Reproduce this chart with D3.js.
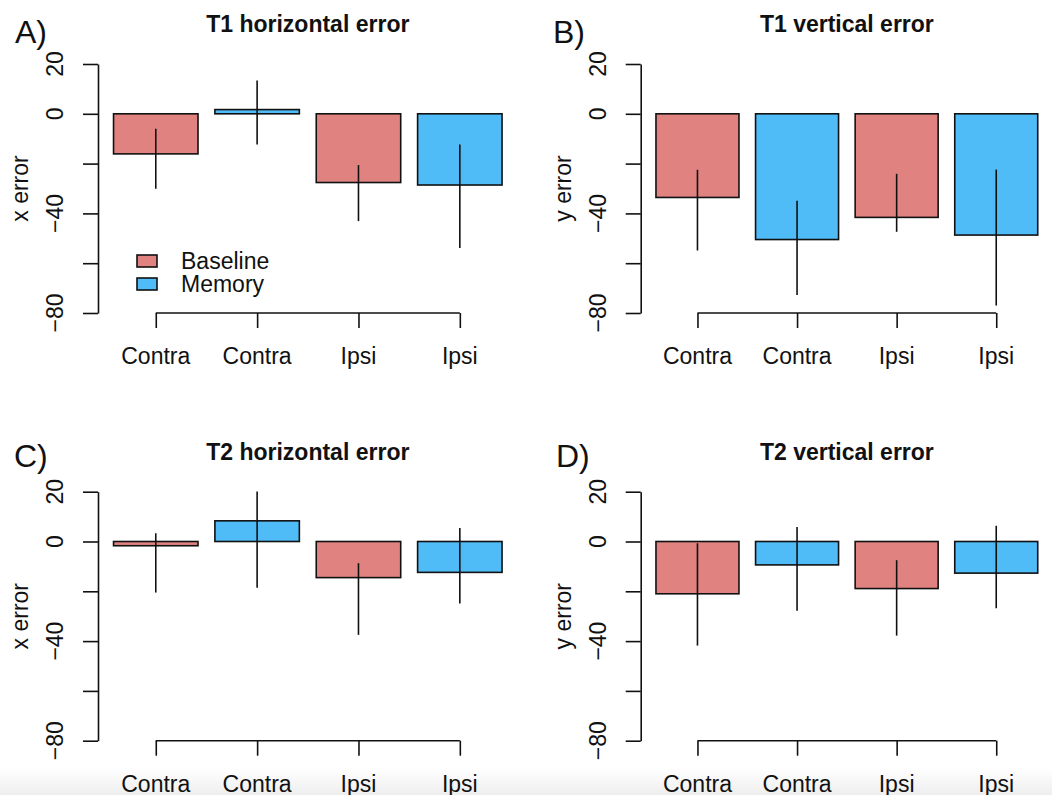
<!DOCTYPE html>
<html>
<head>
<meta charset="utf-8">
<script src="https://cdn.jsdelivr.net/npm/d3@7"></script>
<style>
  html, body { margin: 0; padding: 0; background: #fff; }
  svg { display: block; font-family: "Liberation Sans", Arial, Helvetica, sans-serif; }
</style>
</head>
<body>
<svg id="chart" width="1052" height="795"></svg>
<script>
// ---- data ----
const categories = ["Contra", "Contra", "Ipsi", "Ipsi"];
const conditions = ["Baseline", "Memory", "Baseline", "Memory"];
const legendLabels = ["Baseline", "Memory"];
const yTicks = [20, 0, -20, -40, -60, -80];
const yTickLabels = ["20", "0", "", "-40", "", "-80"];

const t1xMean = [-16.1, 1.7, -27.6, -28.6];
const t1xLow  = [-30.1, -12.3, -43.1, -53.9];
const t1xHigh = [-6.0, 13.4, -20.6, -12.3];

const t1yMean = [-33.6, -50.5, -41.6, -48.7];
const t1yLow  = [-54.9, -72.8, -47.4, -77.0];
const t1yHigh = [-22.5, -34.9, -24.1, -22.4];

const t2xMean = [-1.7, 8.3, -14.5, -12.4];
const t2xLow  = [-20.5, -18.6, -37.5, -24.9];
const t2xHigh = [3.3, 20.1, -8.7, 5.4];

const t2yMean = [-21.0, -9.4, -18.9, -12.7];
const t2yLow  = [-41.8, -27.8, -37.8, -26.8];
const t2yHigh = [-0.7, 5.8, -7.5, 6.3];

const colors = { Baseline: "#e08380", Memory: "#4fbbf7" };

// ---- layout ----
const panels = [
  { tag: "A)", title: "T1 horizontal error", ylab: "x error", mean: t1xMean, low: t1xLow, high: t1xHigh,
    left: 98, right: 517.6, top: 64, bottom: 313, legend: true, tagX: 15, tagY: 43 },
  { tag: "B)", title: "T1 vertical error", ylab: "y error", mean: t1yMean, low: t1yLow, high: t1yHigh,
    left: 640.7, right: 1053, top: 64, bottom: 313, legend: false, tagX: 553, tagY: 43 },
  { tag: "C)", title: "T2 horizontal error", ylab: "x error", mean: t2xMean, low: t2xLow, high: t2xHigh,
    left: 98, right: 517.6, top: 491.7, bottom: 740.7, legend: false, tagX: 14, tagY: 467 },
  { tag: "D)", title: "T2 vertical error", ylab: "y error", mean: t2yMean, low: t2yLow, high: t2yHigh,
    left: 640.7, right: 1053, top: 491.7, bottom: 740.7, legend: false, tagX: 556, tagY: 467 }
];

const svg = d3.select("#chart");

// bottom light band (screenshot artefact)
const defs = svg.append("defs");
const grad = defs.append("linearGradient").attr("id", "band").attr("x1", 0).attr("y1", 0).attr("x2", 0).attr("y2", 1);
grad.append("stop").attr("offset", "0%").attr("stop-color", "#ffffff");
grad.append("stop").attr("offset", "100%").attr("stop-color", "#eeeeee");
svg.append("rect").attr("x", 0).attr("y", 768).attr("width", 1052).attr("height", 27).attr("fill", "url(#band)");

const fs = 23;
const sw = 1.6;

panels.forEach(p => {
  const g = svg.append("g");
  const x = d3.scaleLinear().domain([0.016, 4.984]).range([p.left, p.right]);
  const y = d3.scaleLinear().domain([-80, 20]).range([p.bottom, p.top]);
  const idx = d3.range(categories.length);
  const barL = i => 0.2 + 1.2 * i;
  const barC = i => 0.7 + 1.2 * i;

  // bars
  g.selectAll("rect.bar").data(idx).join("rect")
    .attr("class", "bar")
    .attr("x", i => x(barL(i)))
    .attr("width", i => x(barL(i) + 1) - x(barL(i)))
    .attr("y", i => y(Math.max(0, p.mean[i])))
    .attr("height", i => Math.abs(y(p.mean[i]) - y(0)))
    .attr("fill", i => colors[conditions[i]])
    .attr("stroke", "#111")
    .attr("stroke-width", sw);

  // error bars
  g.selectAll("line.err").data(idx).join("line")
    .attr("class", "err")
    .attr("x1", i => x(barC(i))).attr("x2", i => x(barC(i)))
    .attr("y1", i => y(p.high[i])).attr("y2", i => y(p.low[i]))
    .attr("stroke", "#111").attr("stroke-width", sw);

  // y axis
  const ya = g.append("g").attr("transform", `translate(${p.left},0)`)
    .call(d3.axisLeft(y).tickValues(yTicks).tickSize(15).tickSizeOuter(0).tickFormat(""));
  ya.select(".domain").attr("stroke", "#111").attr("stroke-width", sw);
  ya.selectAll(".tick line").attr("stroke", "#111").attr("stroke-width", sw);
  g.selectAll("text.ytl").data(yTicks).join("text")
    .attr("class", "ytl")
    .attr("transform", d => `translate(${p.left - 35},${y(d)}) rotate(-90)`)
    .attr("text-anchor", "middle")
    .attr("font-size", fs)
    .attr("fill", "#111")
    .text((d, i) => yTickLabels[i].replace("-", "\u2212"));

  // x axis
  const xa = g.append("g").attr("transform", `translate(0,${p.bottom})`)
    .call(d3.axisBottom(x).tickValues(idx.map(barC)).tickSize(15).tickSizeOuter(0).tickFormat(""));
  xa.select(".domain").attr("d", `M${x(barC(0))},0H${x(barC(3))}`).attr("stroke", "#111").attr("stroke-width", sw);
  xa.selectAll(".tick line").attr("stroke", "#111").attr("stroke-width", sw);
  g.selectAll("text.xtl").data(idx).join("text")
    .attr("class", "xtl")
    .attr("x", i => x(barC(i)))
    .attr("y", p.bottom + 51)
    .attr("text-anchor", "middle")
    .attr("font-size", fs)
    .attr("fill", "#111")
    .text(i => categories[i]);

  // y label
  g.append("text")
    .attr("transform", `translate(${p.left - 70},${(p.top + p.bottom) / 2}) rotate(-90)`)
    .attr("text-anchor", "middle")
    .attr("font-size", fs)
    .attr("fill", "#111")
    .text(p.ylab);

  // title
  g.append("text")
    .attr("x", (p.left + p.right) / 2)
    .attr("y", p.top - 32)
    .attr("text-anchor", "middle")
    .attr("font-size", fs)
    .attr("font-weight", "bold")
    .attr("fill", "#111")
    .text(p.title);

  // panel tag
  g.append("text")
    .attr("x", p.tagX).attr("y", p.tagY)
    .attr("font-size", 32)
    .attr("fill", "#111")
    .text(p.tag);

  if (p.legend) {
    const lg = g.append("g");
    legendLabels.forEach((lab, k) => {
      lg.append("rect")
        .attr("x", 137).attr("y", 255 + k * 23)
        .attr("width", 20).attr("height", 12)
        .attr("fill", colors[lab]).attr("stroke", "#111").attr("stroke-width", sw);
      lg.append("text")
        .attr("x", 181).attr("y", 269 + k * 23)
        .attr("font-size", fs).attr("fill", "#111")
        .text(lab);
    });
  }
});
</script>
</body>
</html>
